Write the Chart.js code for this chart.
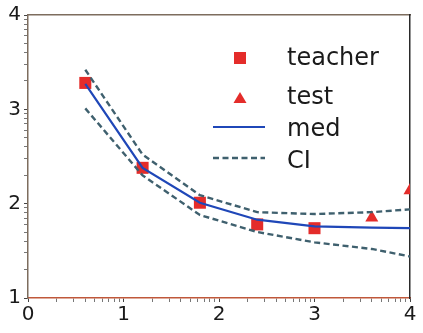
<!DOCTYPE html>
<html>
<head>
<meta charset="utf-8">
<script src="https://cdn.jsdelivr.net/npm/chart.js@4.4.1/dist/chart.umd.min.js"></script>
<style>
  html, body { margin: 0; padding: 0; background: #fff; }
  #wrap { width: 423px; height: 333px; }
</style>
</head>
<body>
<div id="wrap"><canvas id="chart" width="423" height="333"></canvas></div>
<script>
const gridX = [0.6, 1.2, 1.8, 2.4, 3.0, 3.6, 4.0];
const medY = [3.27, 2.38, 2.01, 1.83, 1.76, 1.745, 1.74];
const ciUpperY = [3.42, 2.52, 2.09, 1.91, 1.89, 1.91, 1.94];
const ciLowerY = [3.01, 2.30, 1.88, 1.70, 1.59, 1.52, 1.44];

const teacherX = [0.6, 1.2, 1.8, 2.4, 3.0];
const teacherY = [3.28, 2.38, 2.01, 1.78, 1.74];

const testX = [3.6, 4.0];
const testY = [1.85, 2.14];

const xTicks = [0, 1, 2, 3, 4];
const yTicks = [1, 2, 3, 4];

const RED = "#e42c2a";
const BLUE = "#1f47b8";
const CI_COLOR = "#3f606e";
const FONT = "'DejaVu Sans', sans-serif";

const toPoints = (xs, ys) => xs.map((x, i) => ({ x, y: ys[i] }));

// log-style minor ticks inside each unit, like the original axes
function withMinorTicks(majors) {
  const ticks = [];
  majors.forEach((m, i) => {
    ticks.push({ value: m, major: true });
    if (i < majors.length - 1) {
      for (let k = 2; k <= 9; k++) ticks.push({ value: m + Math.log10(k), major: false });
    }
  });
  return ticks;
}

const legendItems = [
  { label: "teacher", kind: "rect", y: 58 },
  { label: "test", kind: "tri", y: 98 },
  { label: "med", kind: "line", y: 127 },
  { label: "CI", kind: "dash", y: 158 },
];
const legendBaselines = [65, 104, 136, 168];

const legendPlugin = {
  id: "insideLegend",
  afterDraw(chart) {
    const ctx = chart.ctx;
    ctx.save();
    legendItems.forEach((item, i) => {
      if (item.kind === "rect") {
        ctx.fillStyle = RED;
        ctx.fillRect(234, item.y - 6, 12, 12);
      } else if (item.kind === "tri") {
        ctx.fillStyle = RED;
        ctx.beginPath();
        ctx.moveTo(240, item.y - 6);
        ctx.lineTo(246.5, item.y + 5);
        ctx.lineTo(233.5, item.y + 5);
        ctx.closePath();
        ctx.fill();
      } else {
        ctx.strokeStyle = item.kind === "line" ? BLUE : CI_COLOR;
        ctx.lineWidth = item.kind === "line" ? 2.2 : 2.4;
        ctx.setLineDash(item.kind === "line" ? [] : [6, 3.5]);
        ctx.beginPath();
        ctx.moveTo(213, item.y);
        ctx.lineTo(265, item.y);
        ctx.stroke();
        ctx.setLineDash([]);
      }
      ctx.fillStyle = "#1a1a1a";
      ctx.font = "24px " + FONT;
      ctx.textBaseline = "alphabetic";
      ctx.textAlign = "left";
      ctx.fillText(item.label, 287, legendBaselines[i]);
    });
    ctx.restore();
  },
};

const tickFont = { family: FONT, size: 20 };

new Chart(document.getElementById("chart"), {
  type: "scatter",
  data: {
    datasets: [
      {
        label: "med",
        type: "line",
        data: toPoints(gridX, medY),
        borderColor: BLUE,
        borderWidth: 2.2,
        pointRadius: 0,
        tension: 0,
      },
      {
        label: "CI",
        type: "line",
        data: toPoints(gridX, ciUpperY),
        borderColor: CI_COLOR,
        borderWidth: 2.4,
        borderDash: [6, 3.5],
        pointRadius: 0,
        tension: 0,
      },
      {
        label: "CI lower",
        type: "line",
        data: toPoints(gridX, ciLowerY),
        borderColor: CI_COLOR,
        borderWidth: 2.4,
        borderDash: [6, 3.5],
        pointRadius: 0,
        tension: 0,
      },
      {
        label: "teacher",
        data: toPoints(teacherX, teacherY),
        pointStyle: "rect",
        pointRadius: 8.5,
        backgroundColor: RED,
        borderColor: RED,
        borderWidth: 0,
      },
      {
        label: "test",
        data: toPoints(testX, testY),
        pointStyle: "triangle",
        pointRadius: 7.5,
        backgroundColor: RED,
        borderColor: RED,
        borderWidth: 0,
      },
    ],
  },
  options: {
    responsive: false,
    animation: false,
    layout: { padding: { left: 0, top: 15, right: 13, bottom: 0 } },
    plugins: {
      legend: { display: false },
      tooltip: { enabled: false },
    },
    scales: {
      x: {
        type: "linear",
        position: "bottom",
        min: 0,
        max: 4,
        afterBuildTicks: (axis) => { axis.ticks = withMinorTicks(xTicks); },
        afterFit: (axis) => { axis.height = 35; },
        border: { color: "#c0583a", width: 1.5 },
        grid: {
          drawOnChartArea: false,
          tickLength: 4,
          tickColor: (c) => (c.tick && c.tick.major ? "#444" : "#777"),
        },
        ticks: {
          font: tickFont,
          color: "#1a1a1a",
          padding: 1,
          maxRotation: 0,
          autoSkip: false,
          callback: (v, i, ticks) => (ticks[i].major ? String(v) : ""),
        },
      },
      y: {
        type: "linear",
        position: "left",
        min: 1,
        max: 4,
        afterBuildTicks: (axis) => { axis.ticks = withMinorTicks(yTicks); },
        afterFit: (axis) => { axis.width = 28; },
        border: { color: "#7d6d5e", width: 1.5 },
        grid: {
          drawOnChartArea: false,
          tickLength: 4,
          tickColor: (c) => (c.tick && c.tick.major ? "#444" : "#777"),
        },
        ticks: {
          font: tickFont,
          color: "#1a1a1a",
          padding: 3,
          autoSkip: false,
          callback: (v, i, ticks) => (ticks[i].major ? String(v) : ""),
        },
      },
      xTop: {
        type: "linear",
        position: "top",
        min: 0,
        max: 4,
        afterFit: (axis) => { axis.height = 0; },
        border: { color: "#7d6d5e", width: 1.5 },
        grid: { display: false },
        ticks: { display: false },
      },
      yRight: {
        type: "linear",
        position: "right",
        min: 1,
        max: 4,
        afterFit: (axis) => { axis.width = 0; },
        border: { color: "#2a2a2a", width: 1.5 },
        grid: { display: false },
        ticks: { display: false },
      },
    },
  },
  plugins: [legendPlugin],
});
</script>
</body>
</html>
